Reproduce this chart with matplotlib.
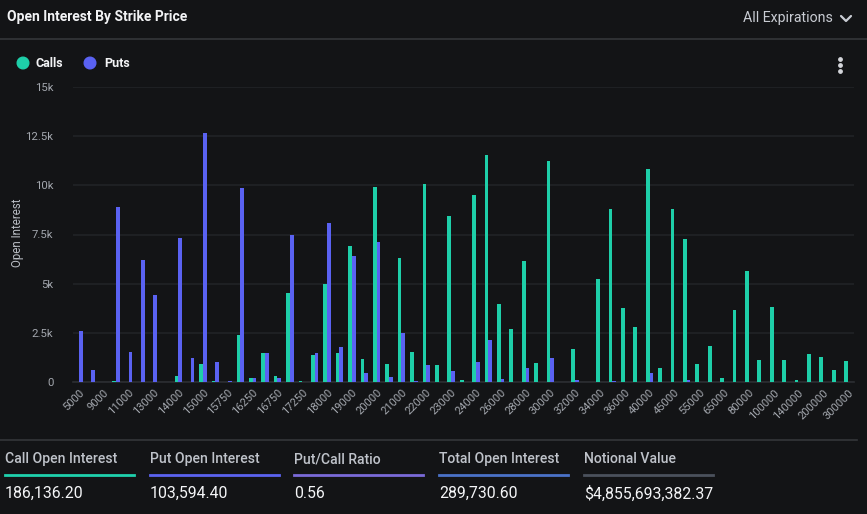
import matplotlib
matplotlib.use("Agg")
import matplotlib.pyplot as plt
import numpy as np
from matplotlib.patches import Circle

strikes = ["5000", "8000", "9000", "10000", "11000", "12000", "13000", "13500",
           "14000", "14500", "15000", "15500", "15750", "16000", "16250", "16500",
           "16750", "17000", "17250", "17500", "18000", "18500", "19000", "19500",
           "20000", "20500", "21000", "21500", "22000", "22500", "23000", "23500",
           "24000", "25000", "26000", "27000", "28000", "29000", "30000", "31000",
           "32000", "33000", "34000", "35000", "36000", "38000", "40000", "42000",
           "45000", "50000", "55000", "60000", "65000", "70000", "80000", "90000",
           "100000", "120000", "140000", "150000", "200000", "250000", "300000"]

calls = [0, 0, 0, 50, 0, 0, 0, 0,
         300, 0, 910, 50, 0, 2380, 200, 1470,
         300, 4510, 50, 1370, 4970, 1470, 6940, 1170,
         9930, 910, 6280, 1520, 10090, 860, 8460, 100,
         9530, 11560, 3950, 2690, 6130, 960, 11250, 0,
         1670, 0, 5220, 8820, 3750, 2790, 10850, 710,
         8820, 7250, 910, 1820, 200, 3650, 5620, 1110,
         3800, 1110, 100, 1420, 1270, 610, 1060]

puts = [2600, 610, 0, 8890, 1520, 6180, 4410, 0,
        7300, 1220, 12670, 1010, 50, 9880, 200, 1470,
        200, 7500, 0, 1470, 8110, 1770, 6390, 460,
        7100, 250, 2480, 50, 860, 0, 560, 0,
        1010, 2130, 150, 0, 710, 0, 1220, 0,
        100, 0, 0, 50, 0, 0, 460, 0,
        0, 100, 0, 0, 0, 0, 0, 0,
        0, 0, 0, 0, 0, 0, 0]

stat_titles = ["Call Open Interest", "Put Open Interest", "Put/Call Ratio",
               "Total Open Interest", "Notional Value"]
stat_values = ["186,136.20", "103,594.40", "0.56", "289,730.60", "$4,855,693,382.37"]
stat_colors = ["#1fd1ad", "#5b63f0", "#7a6ad8", "#4a72c8", "#4b515c"]

BG = "#131416"
CALL = "#1ecfa9"
PUT = "#5a62f2"
W, H = 867, 514

plt.rcParams["font.family"] = ["Roboto", "DejaVu Sans"]

fig = plt.figure(figsize=(W / 100, H / 100), dpi=100, facecolor=BG)

# overlay in pixel coordinates for the UI chrome
ov = fig.add_axes([0, 0, 1, 1], facecolor="none", zorder=0)
ov.set_xlim(0, W)
ov.set_ylim(H, 0)
ov.axis("off")

ov.text(7, 17, "Open Interest By Strike Price", color="#f2f3f5", fontsize=10,
        fontweight="bold", va="center", ha="left")
ov.text(833, 18, "All Expirations", color="#c9ccd3", fontsize=10.2,
        va="center", ha="right")
ov.plot([841, 846, 851], [16, 21, 16], color="#c9ccd3", lw=1.6,
        solid_capstyle="round", solid_joinstyle="round")
ov.plot([0, W], [39, 39], color="#34363a", lw=1.2)

# legend
ov.add_patch(Circle((23, 63), 5.8, color=CALL))
ov.text(36, 63.5, "Calls", color="#f2f3f5", fontsize=9, fontweight="bold",
        va="center", ha="left")
ov.add_patch(Circle((90, 63), 5.8, color=PUT))
ov.text(104, 63.5, "Puts", color="#f2f3f5", fontsize=9, fontweight="bold",
        va="center", ha="left")
ov.scatter([840, 840, 840], [59, 65, 71], s=6, color="#d4d6db", zorder=5)

# y axis title
ov.text(17, 233, "Open Interest", color="#b9bdc4", fontsize=8.3, rotation=90,
        va="center", ha="center")

# bottom stats
ov.plot([0, 857], [440, 440], color="#34363a", lw=1.2)
xs = [5, 150, 294, 439, 584]
for x0, t, v, c in zip(xs, stat_titles, stat_values, stat_colors):
    ov.text(x0, 459, t, color="#bfc3ca", fontsize=10.1, fontweight="medium",
            va="center", ha="left")
    ov.plot([x0, x0 + 129], [474.5, 474.5], color=c, lw=2)
    ov.text(x0, 493.5, v, color="#f4f5f7", fontsize=11.4, va="center", ha="left")

# main chart
left, right = 72.8, 854.2
top, bottom = 87, 382
ax = fig.add_axes([left / W, 1 - bottom / H, (right - left) / W, (bottom - top) / H],
                  facecolor="none", zorder=2)
x = np.arange(len(strikes))
bw = 0.3
ax.bar(x - bw / 2, calls, width=bw, color=CALL, zorder=3, linewidth=0)
ax.bar(x + bw / 2, puts, width=bw, color=PUT, zorder=3, linewidth=0)
ax.set_xlim(-0.5, len(strikes) - 0.5)
ax.set_ylim(0, 15000)
yt = [0, 2500, 5000, 7500, 10000, 12500, 15000]
ax.set_yticks(yt)
ax.set_yticklabels(["0", "2.5k", "5k", "7.5k", "10k", "12.5k", "15k"])
ax.yaxis.grid(True, color="#212326", lw=1.2, zorder=0)
ax.set_axisbelow(True)
for s in ["top", "right", "left"]:
    ax.spines[s].set_visible(False)
ax.spines["bottom"].set_color("#2c2e32")
ax.spines["bottom"].set_linewidth(1.2)
ax.tick_params(axis="y", length=0, pad=14, labelcolor="#a3a7ae", labelsize=8.2)
ax.tick_params(axis="x", length=0, pad=4, labelcolor="#a3a7ae", labelsize=8)
ax.set_xticks(x[::2])
ax.set_xticklabels(strikes[::2], rotation=45, ha="right", va="top",
                   rotation_mode="anchor")

fig.savefig("out.png", dpi=100, facecolor=BG)
